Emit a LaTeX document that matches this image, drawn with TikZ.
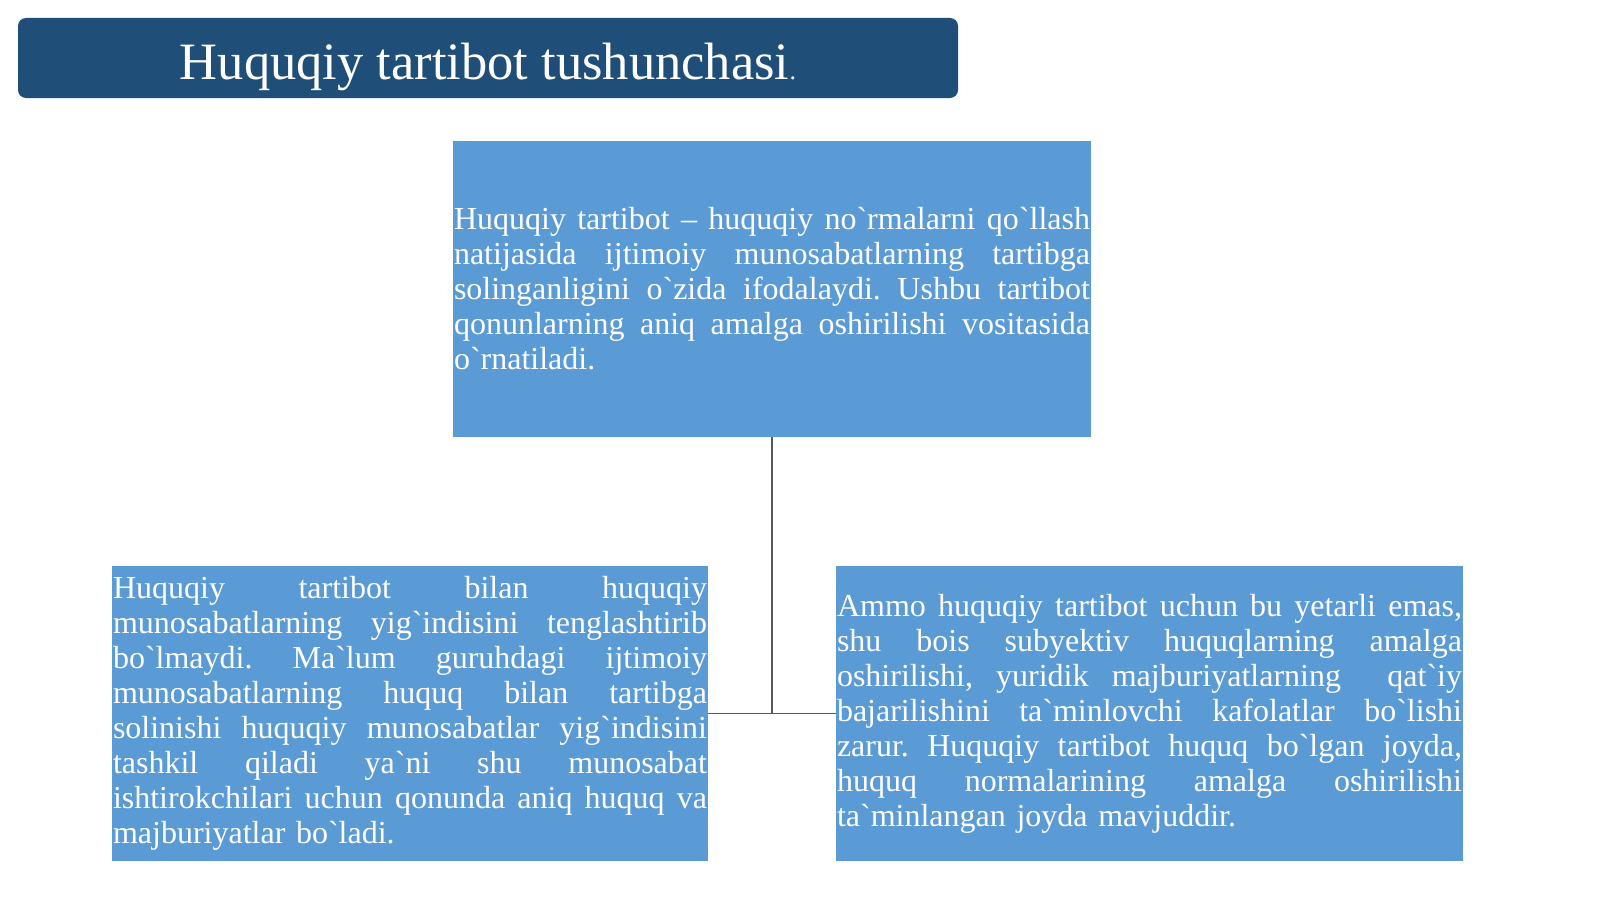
\documentclass[tikz,border=0pt]{standalone}
\usepackage{fontspec}
\setmainfont{Liberation Serif}[Ligatures=TeXOff]
\definecolor{titlebg}{HTML}{1F4E79}
\definecolor{boxbg}{HTML}{5B9BD5}
\definecolor{connc}{HTML}{595959}
\frenchspacing
\newcommand\jw{600pt}
\newcommand\jl[1]{\leavevmode\hbox to \jw{\spaceskip=0.25em plus 1fil minus 0.05em\relax #1}}
\begin{document}
\begin{tikzpicture}[x=1pt,y=-1pt,
  titlebox/.style={fill=titlebg, draw=none, rounded corners=8pt, text=white, inner sep=0pt,
    font=\fontsize{52.5}{56}\selectfont},
  infobox/.style={fill=boxbg, draw=none, inner ysep=0pt, inner xsep=1pt, text=white, align=left,
    font=\fontsize{32}{35}\selectfont\frenchspacing},
  connline/.style={draw=connc, line width=1.5pt}]
\useasboundingbox (0,0) rectangle (1600,899);
\fill[white] (0,0) rectangle (1600,899);
\node[titlebox, minimum width=940, minimum height=80, text height=44pt, text depth=0pt] (title) at (488,58)
  {Huquqiy tartibot tushunchasi{\fontsize{26}{30}\selectfont.}};
\node[infobox, minimum width=638, minimum height=296, text width=636] (top) at (772,289)
  {\renewcommand\jw{636pt}%
   \jl{Huquqiy tartibot – huquqiy no`rmalarni qo`llash}\\
   \jl{natijasida ijtimoiy munosabatlarning tartibga}\\
   \jl{solinganligini o`zida ifodalaydi. Ushbu tartibot}\\
   \jl{qonunlarning aniq amalga oshirilishi vositasida}\\
   o`rnatiladi.};
\node[infobox, minimum width=596, minimum height=295, text width=594] (left) at (410,713.5)
  {\renewcommand\jw{594pt}%
   \jl{Huquqiy tartibot bilan huquqiy}\\
   \jl{munosabatlarning yig`indisini tenglashtirib}\\
   \jl{bo`lmaydi. Ma`lum guruhdagi ijtimoiy}\\
   \jl{munosabatlarning huquq bilan tartibga}\\
   \jl{solinishi huquqiy munosabatlar yig`indisini}\\
   \jl{tashkil qiladi ya`ni shu munosabat}\\
   \jl{ishtirokchilari uchun qonunda aniq huquq va}\\
   majburiyatlar bo`ladi.};
\node[infobox, minimum width=627, minimum height=295, text width=625] (right) at (1149.5,713.5)
  {\renewcommand\jw{625pt}%
   \jl{Ammo huquqiy tartibot uchun bu yetarli emas,}\\
   \jl{shu bois subyektiv huquqlarning amalga}\\
   \jl{oshirilishi, yuridik majburiyatlarning \ qat`iy}\\
   \jl{bajarilishini ta`minlovchi kafolatlar bo`lishi}\\
   \jl{zarur. Huquqiy tartibot huquq bo`lgan joyda,}\\
   \jl{huquq normalarining amalga oshirilishi}\\
   ta`minlangan joyda mavjuddir.};
\coordinate (joint) at (top.south |- left.east);
\draw[connline] (top.south) -- (joint);
\draw[connline] (left.east) -- (right.west);
\end{tikzpicture}
\end{document}
